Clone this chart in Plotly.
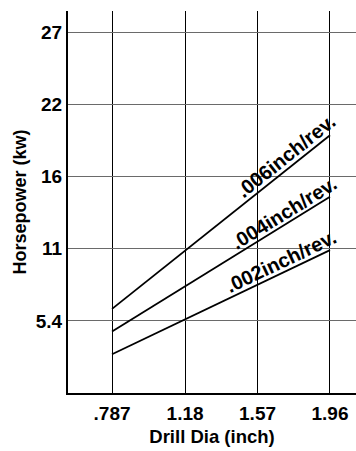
import plotly.graph_objects as go

# ---- data ----
drill_dia = [0.787, 1.96]
series_names = [".002inch/rev.", ".004inch/rev.", ".006inch/rev."]
hp_002 = [2.9, 10.7]
hp_004 = [4.6, 14.7]
hp_006 = [6.3, 19.3]
x_tickvals = [0.787, 1.18, 1.57, 1.96]
x_ticktext = [".787", "1.18", "1.57", "1.96"]
y_tickvals = [5.4, 10.8, 16.2, 21.6, 27.0]
y_ticktext = ["5.4", "11", "16", "22", "27"]

FONT = "Liberation Sans, Arial, sans-serif"

fig = go.Figure()
for name, vals in zip(series_names, [hp_002, hp_004, hp_006]):
    fig.add_trace(go.Scatter(x=drill_dia, y=vals, mode="lines", name=name,
                             line=dict(color="black", width=1.8), showlegend=False,
                             hoverinfo="skip"))

# labels sitting on the lines (center position, angle)
label_pos = [(1.699, 9.90, -25.5), (1.711, 13.50, -31.7), (1.722, 17.75, -38.6)]
for name, (lx, ly, ang) in zip(series_names, label_pos):
    fig.add_annotation(x=lx, y=ly, xref="x", yref="y", text=name, showarrow=False,
                       textangle=ang, xanchor="center", yanchor="middle",
                       font=dict(family=FONT, size=20, color="black", weight="bold"))

fig.update_layout(
    width=356, height=451,
    margin=dict(l=68, r=0, t=11, b=58, autoexpand=False),
    paper_bgcolor="white", plot_bgcolor="white",
    font=dict(family=FONT, size=19, color="black", weight="bold"),
)
fig.update_xaxes(
    range=[0.55, 2.1], tickvals=x_tickvals, ticktext=x_ticktext,
    showgrid=True, gridcolor="black", gridwidth=1,
    showline=True, linecolor="black", linewidth=2, zeroline=False,
    ticks="", ticklabelstandoff=2, automargin=False,
    title=dict(text="Drill Dia (inch)", standoff=7,
               font=dict(family=FONT, size=18.5, weight="bold")),
)
fig.update_yaxes(
    range=[0, 28.6], tickvals=y_tickvals, ticktext=y_ticktext,
    showgrid=True, gridcolor="#6a6a6a", gridwidth=1.2,
    showline=True, linecolor="black", linewidth=2, zeroline=False,
    ticks="", ticklabelstandoff=0, automargin=False,
    title=dict(text="Horsepower (kw)", standoff=4,
               font=dict(family=FONT, size=18, weight="bold")),
)

fig.write_html("out.html", config={"displayModeBar": False},
               post_script="document.body.style.margin='0';document.body.style.overflow='hidden';")
